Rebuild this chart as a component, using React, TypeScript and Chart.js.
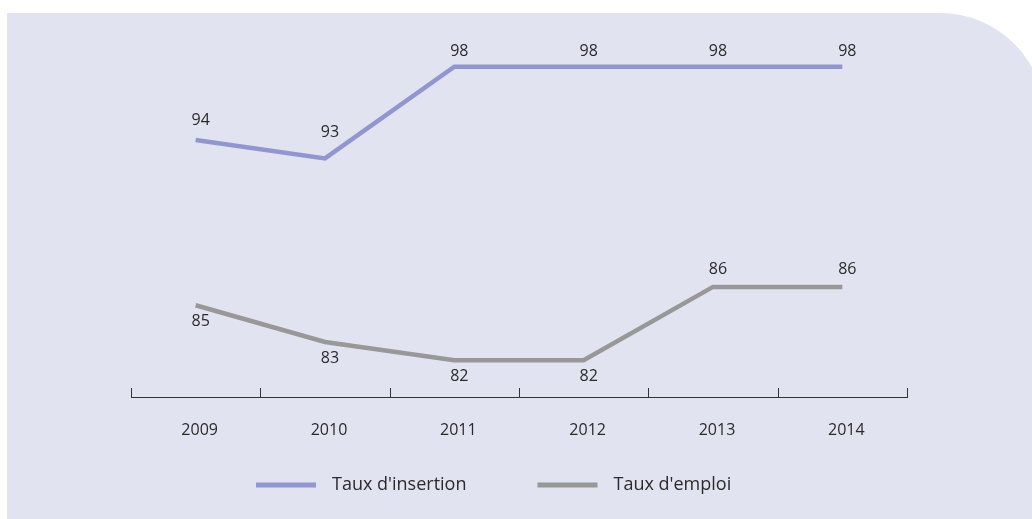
import React, { useEffect, useRef } from "react";
import { Chart, registerables } from "chart.js";

Chart.register(...registerables);

// ---- Data ----
const years = ["2009", "2010", "2011", "2012", "2013", "2014"];
const tauxInsertion = [94, 93, 98, 98, 98, 98];
const tauxEmploi = [85, 83, 82, 82, 86, 86];
const seriesNames = ["Taux d'insertion", "Taux d'emploi"];
// label placement for the "Taux d'emploi" series (true = below the line)
const emploiLabelBelow = [true, true, true, true, false, false];
// extra lift (px) of the "Taux d'insertion" value labels above their points
const insertionLabelLift = [20, 26, 15, 15, 15, 15];

const FONT = "'Open Sans', 'DejaVu Sans', sans-serif";
const TEXT = "#2a2a2a";
const COL_INSERTION = "#9296ce";
const COL_EMPLOI = "#989898";

const valueLabels = {
  id: "valueLabels",
  afterDatasetsDraw(chart: any) {
    const ctx = chart.ctx;
    ctx.save();
    ctx.font = `16px ${FONT}`;
    ctx.fillStyle = TEXT;
    ctx.textAlign = "center";
    ctx.textBaseline = "middle";
    chart.data.datasets.forEach((ds: any, di: number) => {
      const meta = chart.getDatasetMeta(di);
      meta.data.forEach((pt: any, i: number) => {
        let dy: number;
        if (di === 0) dy = -insertionLabelLift[i];
        else dy = emploiLabelBelow[i] ? 16 : -17;
        ctx.fillText(String(ds.data[i]), pt.x + 5, pt.y + dy);
      });
    });
    ctx.restore();
  },
};

const upTicks = {
  id: "upTicks",
  afterDraw(chart: any) {
    const s = chart.scales.x;
    const ctx = chart.ctx;
    const n = chart.data.labels.length;
    const step = s.getPixelForValue(1) - s.getPixelForValue(0);
    const yb = chart.chartArea.bottom;
    ctx.save();
    ctx.strokeStyle = "#333333";
    ctx.lineWidth = 1;
    for (let i = 0; i <= n; i++) {
      const x = Math.round(s.getPixelForValue(0) - step / 2 + i * step) + 0.5;
      ctx.beginPath();
      ctx.moveTo(x, yb - 9);
      ctx.lineTo(x, yb + 0.5);
      ctx.stroke();
    }
    ctx.restore();
  },
};

const lineLegend = {
  id: "lineLegend",
  afterDraw(chart: any) {
    const ctx = chart.ctx;
    ctx.save();
    ctx.font = `18px ${FONT}`;
    ctx.textBaseline = "middle";
    ctx.textAlign = "left";
    const y = 485;
    let x = 256;
    chart.data.datasets.forEach((ds: any) => {
      ctx.strokeStyle = ds.borderColor;
      ctx.lineWidth = 5;
      ctx.beginPath();
      ctx.moveTo(x, y);
      ctx.lineTo(x + 60, y);
      ctx.stroke();
      ctx.fillStyle = TEXT;
      ctx.fillText(ds.label, x + 76, y);
      x = x + 76 + ctx.measureText(ds.label).width + 71;
    });
    ctx.restore();
  },
};

export default function App() {
  const ref = useRef<HTMLCanvasElement | null>(null);

  useEffect(() => {
    if (!ref.current) return;
    const chart = new Chart(ref.current, {
      type: "line",
      data: {
        labels: years,
        datasets: [
          {
            label: seriesNames[0],
            data: tauxInsertion,
            borderColor: COL_INSERTION,
            backgroundColor: COL_INSERTION,
            borderWidth: 4.5,
            pointRadius: 0,
            tension: 0,
            fill: false,
            borderJoinStyle: "miter",
            borderCapStyle: "butt",
          },
          {
            label: seriesNames[1],
            data: tauxEmploi,
            borderColor: COL_EMPLOI,
            backgroundColor: COL_EMPLOI,
            borderWidth: 4.5,
            pointRadius: 0,
            tension: 0,
            fill: false,
            borderJoinStyle: "miter",
            borderCapStyle: "butt",
          },
        ],
      },
      options: {
        animation: false,
        responsive: false,
        devicePixelRatio: 1,
        layout: { padding: { left: 131, right: 125, top: 30, bottom: 79 } },
        plugins: {
          legend: { display: false },
          tooltip: { enabled: false },
          title: { display: false },
        },
        scales: {
          x: {
            type: "category",
            offset: true,
            grid: { display: true, drawOnChartArea: false, drawTicks: false, offset: true },
            border: { display: true, color: "#333333", width: 1 },
            ticks: {
              padding: 24,
              labelOffset: 4,
              color: TEXT,
              font: { family: FONT, size: 16 },
              maxRotation: 0,
            },
            afterFit: (s: any) => {
              s.height = 43;
            },
          },
          y: {
            display: false,
            min: 80,
            max: 100,
          },
        },
      },
      plugins: [valueLabels, upTicks, lineLegend],
    } as any);
    return () => chart.destroy();
  }, []);

  return (
    <div
      style={{
        position: "fixed",
        left: 0,
        top: 0,
        width: 1032,
        height: 519,
        overflow: "hidden",
        background: "#ffffff",
      }}
    >
      <div
        style={{
          position: "absolute",
          left: 7,
          top: 13,
          width: 1038,
          height: 620,
          background: "#e1e3f1",
          borderTopRightRadius: 105,
        }}
      />
      <canvas
        ref={ref}
        width={1032}
        height={519}
        style={{ position: "absolute", left: 0, top: 0, width: 1032, height: 519 }}
      />
    </div>
  );
}
